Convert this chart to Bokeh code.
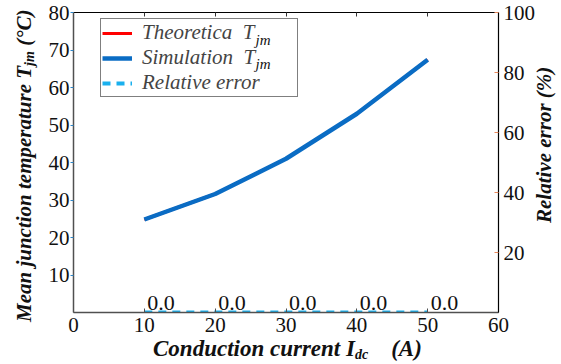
import math
from bokeh.plotting import figure
from bokeh.layouts import row, column
from bokeh.models import (Range1d, LinearAxis, FixedTicker, Legend, LegendItem, Label, Div)
from bokeh.embed import file_html
from bokeh.resources import INLINE

# ---- data ----
current = [10, 20, 30, 40, 50]
theoretical_tjm = [24.8, 31.6, 41.0, 53.0, 67.4]
simulation_tjm = [24.8, 31.6, 41.0, 53.0, 67.4]
relative_error = [0.0, 0.0, 0.0, 0.0, 0.0]
error_labels = ["%.1f" % e for e in relative_error]
x_ticks = [0, 10, 20, 30, 40, 50, 60]
left_ticks = [10, 20, 30, 40, 50, 60, 70, 80]
right_ticks = [20, 40, 60, 80, 100]

FONT = "Liberation Serif"
TXT = "#111111"


def lab(f, x, y, t, size, style="italic"):
    f.add_layout(Label(x=x, y=y, x_units="screen", y_units="screen", text=t,
                       text_font=FONT, text_font_size=size, text_font_style=style,
                       text_align="left", text_baseline="alphabetic",
                       text_color=TXT, level="glyph"))


p = figure(width=498, height=341, output_backend="svg", toolbar_location=None,
           x_range=Range1d(0, 60), y_range=Range1d(0, 80),
           min_border_left=33, min_border_right=40, min_border_top=12, min_border_bottom=29)
p.extra_y_ranges = {"err": Range1d(0, 100)}
p.xgrid.visible = False
p.ygrid.visible = False
p.outline_line_color = None

# bottom axis
xa = p.xaxis[0]
xa.ticker = FixedTicker(ticks=x_ticks)
xa.major_tick_in = 4
xa.major_tick_out = 0
xa.minor_tick_line_color = None
xa.axis_line_color = "#505050"
xa.axis_line_width = 1.5
xa.major_tick_line_color = "#505050"
xa.major_label_standoff = 5
xa.major_label_text_font = FONT
xa.major_label_text_font_size = "21px"
xa.major_label_text_color = TXT

# left axis
ya = p.yaxis[0]
ya.ticker = FixedTicker(ticks=left_ticks)
ya.major_tick_in = 0
ya.major_tick_out = 3
ya.minor_tick_line_color = None
ya.axis_line_color = "#505050"
ya.axis_line_width = 1.5
ya.major_tick_line_color = "#2E86C8"
ya.major_label_standoff = 1
ya.major_label_text_font = FONT
ya.major_label_text_font_size = "21px"
ya.major_label_text_color = TXT

# right axis
ra = LinearAxis(y_range_name="err", ticker=FixedTicker(ticks=right_ticks))
ra.major_tick_in = 4
ra.major_tick_out = 0
ra.minor_tick_line_color = None
ra.axis_line_color = "black"
ra.axis_line_width = 1.2
ra.major_tick_line_color = "#E8875A"
ra.major_label_standoff = 5
ra.major_label_text_font = FONT
ra.major_label_text_font_size = "21px"
ra.major_label_text_color = TXT
p.add_layout(ra, "right")

# top axis (ticks only)
ta = LinearAxis(ticker=FixedTicker(ticks=x_ticks[1:-1]))
ta.major_tick_in = 4
ta.major_tick_out = 0
ta.minor_tick_line_color = None
ta.axis_line_color = "black"
ta.axis_line_width = 1.2
ta.major_tick_line_color = "#333333"
ta.major_label_text_font_size = "0px"
ta.major_label_standoff = 0
p.add_layout(ta, "above")

# glyphs
r_theo = p.line(current, theoretical_tjm, line_color="#FF0000", line_width=3)
r_sim = p.line(current, simulation_tjm, line_color="#0A6CC4", line_width=4.5)
r_err = p.line(current, relative_error, y_range_name="err", line_color="#1AB0EE",
               line_width=4, line_dash="8 6")
p.text(current, relative_error, text=error_labels, y_range_name="err",
       x_offset=3, y_offset=-3, text_baseline="bottom", text_align="left",
       text_font=FONT, text_font_size="22px", text_color=TXT)

NB = "\u00a0"
legend = Legend(items=[
    LegendItem(label="Theoretica" + NB + NB + "T", renderers=[r_theo]),
    LegendItem(label="Simulation" + NB + NB + "T", renderers=[r_sim]),
    LegendItem(label="Relative error" + NB * 7, renderers=[r_err]),
], location=(27, 215))
legend.label_text_font = FONT
legend.label_text_font_style = "italic"
legend.label_text_font_size = "21px"
legend.glyph_width = 30
legend.glyph_height = 20
legend.label_height = 20
legend.spacing = 0
legend.padding = 1
legend.margin = 0
legend.label_standoff = 10
legend.border_line_color = "black"
legend.border_line_width = 1
legend.background_fill_alpha = 0
p.add_layout(legend)

# legend subscripts (drawn beneath the transparent legend box)
lab(p, 182, 273, "jm", "15px")
lab(p, 182, 249, "jm", "15px")

TITLE_CSS = ("white-space:nowrap;font-family:'Liberation Serif';font-style:italic;"
             "font-weight:bold;color:#111111;")
SUB_CSS = "font-size:14px;line-height:0;vertical-align:-3px;"

left_html = (
    '<div style="position:relative;width:40px;height:341px;">'
    '<div style="position:absolute;left:14px;top:322px;transform-origin:0 0;'
    'transform:rotate(-90deg);font-size:21px;line-height:21px;' + TITLE_CSS + '">'
    'Mean junction temperature T<sub style="' + SUB_CSS + '">jm</sub> (\u00b0C)'
    '</div></div>')
right_html = (
    '<div style="position:relative;width:23px;height:341px;">'
    '<div style="position:absolute;left:-4px;top:223px;transform-origin:0 0;'
    'transform:rotate(-90deg);font-size:21px;line-height:21px;' + TITLE_CSS + '">'
    'Relative error (%)</div></div>')
bottom_html = (
    '<div style="position:relative;width:561px;height:23px;">'
    '<div style="position:absolute;left:153px;top:-4px;font-size:23px;line-height:23px;'
    + TITLE_CSS + '">'
    'Conduction current I<sub style="' + SUB_CSS + '">dc</sub>'
    + NB * 4 + '(A)</div></div>')

left_div = Div(text=left_html, width=40, height=341, margin=0)
right_div = Div(text=right_html, width=23, height=341, margin=0)
bottom_div = Div(text=bottom_html, width=561, height=23, margin=0)

layout = column(row(left_div, p, right_div, spacing=0), bottom_div, spacing=0)
open("out.html", "w").write(file_html(layout, INLINE))
